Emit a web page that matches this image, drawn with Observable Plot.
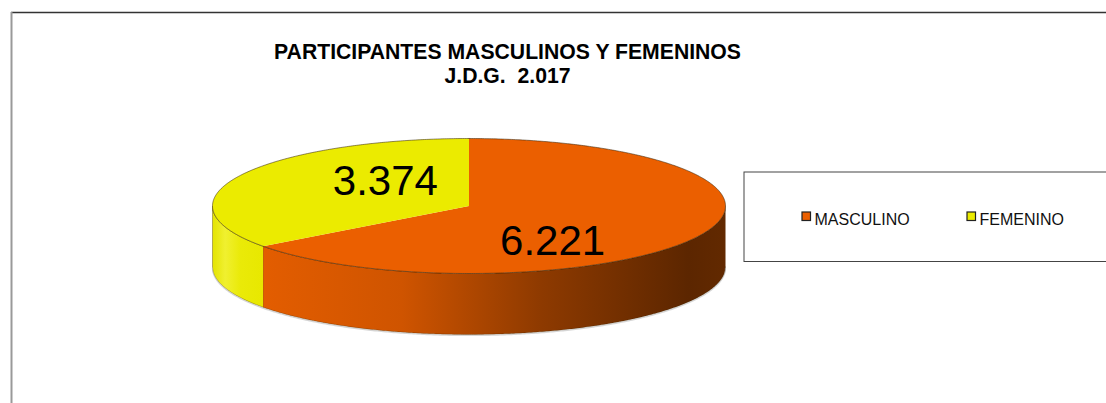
<!DOCTYPE html>
<html><head><meta charset="utf-8">
<script src="https://cdn.jsdelivr.net/npm/d3@7"></script>
<script src="https://cdn.jsdelivr.net/npm/@observablehq/plot@0.6"></script>
<style>
html,body{margin:0;padding:0;background:#fff;overflow:hidden;}
#chart svg text.pre, #chart svg .pre text{white-space:pre;}
</style>
</head><body><div id="chart"></div>
<script>
// ---- data ----
const categories = ["MASCULINO", "FEMENINO"];
const values = [6221, 3374];
const colors = ["#EB5F00", "#EBEB00"];
const titleLines = ["PARTICIPANTES MASCULINOS Y FEMENINOS", "J.D.G.  2.017"];

// ---- layout ----
const W = 1106, H = 403;
const pie = {cx: 468.5, cy: 205.5, rx: 256.5, ry: 67.5, depth: 61};
const fmt = d3.formatLocale({decimal: ",", thousands: ".", grouping: [3], currency: ["", ""]}).format(",");

const total = d3.sum(values);
let acc = 0;
const slices = categories.map((c, i) => {
  const a0 = acc / total * 2 * Math.PI; acc += values[i];
  const a1 = acc / total * 2 * Math.PI;
  return {c, i, a0, a1, mid: (a0 + a1) / 2, value: values[i]};
});
const pt = (a, dz = 0) => ({x: pie.cx + pie.rx * Math.sin(a), y: pie.cy - pie.ry * Math.cos(a) + dz});
const arc = (a0, a1, dz = 0) => {
  const N = Math.max(2, Math.ceil(Math.abs(a1 - a0) / (Math.PI / 360)));
  return d3.range(N + 1).map(k => pt(a0 + (a1 - a0) * k / N, dz));
};

const marks = [];
// side walls (front half only)
slices.forEach(s => {
  const a = Math.max(s.a0, Math.PI / 2), b = Math.min(s.a1, 3 * Math.PI / 2);
  if (b > a) {
    const poly = arc(a, b).concat(arc(b, a, pie.depth));
    marks.push(Plot.line(poly, {x: "x", y: "y", fill: `url(#side${s.i})`, stroke: "#3a2400", strokeWidth: 0.5, strokeOpacity: 0.7, curve: "linear"}));
  }
});
// top faces
slices.forEach(s => {
  const poly = [{x: pie.cx, y: pie.cy}].concat(arc(s.a0, s.a1));
  marks.push(Plot.line(poly, {x: "x", y: "y", fill: colors[s.i], stroke: "none"}));
});
// outline of top ellipse
marks.push(Plot.line(arc(0, 2 * Math.PI), {x: "x", y: "y", stroke: "#3a2a10", strokeWidth: 0.7, strokeOpacity: 0.8}));
// bottom soft shadow edge
marks.push(Plot.line(arc(Math.PI / 2, 3 * Math.PI / 2, pie.depth + 1), {x: "x", y: "y", stroke: "#bbb", strokeWidth: 1.2, strokeOpacity: 0.6}));

// value labels
marks.push(Plot.text(slices, {
  x: d => pie.cx + 0.365 * pie.rx * Math.sin(d.mid),
  y: d => pie.cy - pie.ry * Math.cos(d.mid) + 19,
  text: d => fmt(d.value), lineAnchor: "bottom", textAnchor: "middle",
  fontSize: 42, fill: "#000", fontFamily: "Liberation Sans, Arial, sans-serif"
}));

// title
marks.push(Plot.text(titleLines, {
  x: 507, y: (d, i) => [58, 82][i], text: d => d, lineAnchor: "bottom", textAnchor: "middle",
  fontSize: 21.2, fontWeight: "bold", fill: "#000", fontFamily: "Liberation Sans, Arial, sans-serif", className: "pre"
}));

// legend
const legX = [802, 967];
marks.push(Plot.rect([0], {x1: 744, x2: 1130, y1: 172, y2: 261.5, fill: "none", stroke: "#444", strokeWidth: 1}));
marks.push(Plot.rect(categories, {x1: (d, i) => legX[i], x2: (d, i) => legX[i] + 8.5, y1: 212, y2: 220.5, fill: (d, i) => colors[i], stroke: "#222", strokeWidth: 1.2}));
marks.push(Plot.text(categories, {x: (d, i) => legX[i] + 12, y: 224, text: d => d, textAnchor: "start", lineAnchor: "bottom", fontSize: 16, fill: "#111", fontFamily: "Liberation Sans, Arial, sans-serif"}));

// outer chart border (top and left visible)
marks.push(Plot.ruleY([12], {x1: 11, x2: W, stroke: "#333", strokeWidth: 1.6}));
marks.push(Plot.ruleX([11], {y1: 12, y2: H, stroke: "#999", strokeWidth: 2}));

const svg = Plot.plot({
  width: W, height: H, margin: 0,
  x: {domain: [0, W], range: [0, W], axis: null},
  y: {domain: [0, H], range: [0, H], axis: null},
  style: {background: "#fff", fontFamily: "Liberation Sans, Arial, sans-serif", overflow: "hidden"},
  marks
});

// gradients for side walls
const NS = "http://www.w3.org/2000/svg";
const defs = document.createElementNS(NS, "defs");
const gradStops = [
  [[0, "#E35D00"], [0.3, "#CF5400"], [0.6, "#8E3A00"], [0.92, "#5C2600"], [1, "#622900"]],
  [[0, "#E4E400"], [0.25, "#F0F030"], [0.55, "#EAEA08"], [1, "#E8E800"]]
];
gradStops.forEach((stops, i) => {
  const g = document.createElementNS(NS, "linearGradient");
  g.setAttribute("id", "side" + i);
  g.setAttribute("x1", "0"); g.setAttribute("x2", "1"); g.setAttribute("y1", "0"); g.setAttribute("y2", "0");
  stops.forEach(([o, c]) => {
    const s = document.createElementNS(NS, "stop");
    s.setAttribute("offset", o); s.setAttribute("stop-color", c);
    g.appendChild(s);
  });
  defs.appendChild(g);
});
svg.insertBefore(defs, svg.firstChild);
document.getElementById("chart").appendChild(svg);
</script>
</body></html>
